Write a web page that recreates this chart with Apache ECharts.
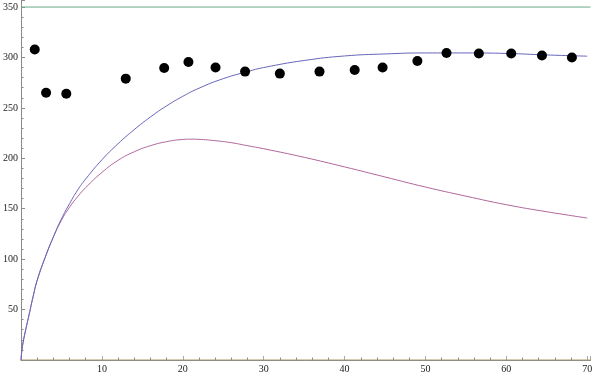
<!DOCTYPE html>
<html>
<head>
<meta charset="utf-8">
<script src="https://cdn.jsdelivr.net/npm/echarts@6/dist/echarts.min.js"></script>
<style>html,body{margin:0;padding:0;background:#fff;}#c{width:599px;height:374px;}</style>
</head>
<body>
<div id="c"></div>
<script>
// Observed data points
var obsX = [1.7, 3.1, 5.6, 12.95, 17.7, 20.7, 24.05, 27.7, 32.0, 36.9, 41.25, 44.7, 49.0, 52.6, 56.6, 60.6, 64.4, 68.1];
var obsY = [308, 265, 264, 279, 289.5, 295.5, 290, 286, 284, 286, 287.5, 290, 296.5, 304.5, 304, 304, 302, 300];

// Blue curve
var blueX = [0, 0.1, 0.25, 0.5, 1, 1.5, 2, 3, 4, 5, 6, 7, 8, 10, 12, 14, 16, 18, 20, 22, 25, 28, 30, 35, 40, 45, 50, 55, 60, 65, 70];
var blueY = [0, 9, 17, 27, 45, 63, 79, 102, 122, 140, 155, 168.5, 179.5, 198.5, 214.5, 228.5, 241, 252, 261.5, 269.5, 279, 286, 290, 297, 301.5, 303.5, 304.5, 304.5, 304, 302.5, 301.3];

// Red curve
var redX = [0, 0.1, 0.25, 0.5, 1, 1.5, 2, 3, 4, 5, 6, 7, 8, 10, 12, 14, 16, 18, 20, 21, 22, 24, 26, 28, 30, 35, 40, 45, 50, 55, 60, 65, 70];
var redY = [0, 9, 17, 27, 45, 63, 79, 102, 122, 138.5, 151.5, 162, 171, 186, 198, 206.5, 212.5, 216.5, 218.7, 219, 218.8, 217.5, 215.5, 212.5, 209.5, 201, 191.5, 181.5, 171.5, 162.5, 154, 147, 140.8];

// Reference horizontal lines
var refLevels = [0, 350];

var xTickStep = 10, yTickStep = 50;
var xMin = 0, xMax = 70.4, yMin = 0, yMax = 357;

function pairs(xs, ys) { return xs.map(function (x, i) { return [x, ys[i]]; }); }

var chart = echarts.init(document.getElementById('c'), null, {renderer: 'canvas'});
var font = '"Liberation Serif", "DejaVu Serif", serif';
chart.setOption({
  animation: false,
  backgroundColor: '#fff',
  grid: {left: 16, right: 8.5, top: 0, bottom: 14, containLabel: false},
  xAxis: {
    type: 'value', min: xMin, max: xMax, interval: xTickStep,
    axisLine: {show: true, onZero: false, lineStyle: {color: '#8a8a8a', width: 1}},
    axisTick: {show: true, inside: true, length: 4, lineStyle: {color: '#a8a8a8'}},
    minorTick: {show: true, splitNumber: 5, length: 2.5, lineStyle: {color: '#8a8a8a'}},
    axisLabel: {showMinLabel: false, showMaxLabel: true, color: '#222', fontFamily: font, fontSize: 10, margin: 4,
      formatter: function (v) { return (v % xTickStep === 0) ? String(v) : ''; }},
    splitLine: {show: false}
  },
  yAxis: {
    type: 'value', min: yMin, max: yMax, interval: yTickStep,
    axisLine: {show: true, onZero: false, lineStyle: {color: '#8a8a8a', width: 1}},
    axisTick: {show: true, inside: true, length: 4, lineStyle: {color: '#8a8a8a'}},
    minorTick: {show: true, splitNumber: 5, length: 2.5, lineStyle: {color: '#8a8a8a'}},
    axisLabel: {showMinLabel: false, showMaxLabel: false, color: '#222', fontFamily: font, fontSize: 10, margin: 3,
      formatter: function (v) { return (v % yTickStep === 0) ? String(v) : ''; }},
    splitLine: {show: false}
  },
  series: [
    {type: 'line', data: [[xMin, refLevels[0]], [xMax, refLevels[0]]], showSymbol: false, silent: true,
      lineStyle: {color: '#a89a68', width: 1}, z: 3},
    {type: 'line', data: [[xMin, refLevels[1]], [xMax, refLevels[1]]], showSymbol: false, silent: true,
      lineStyle: {color: '#6aa888', width: 1}, z: 3},
    {type: 'line', data: pairs(redX, redY), showSymbol: false, smooth: 0.5,
      lineStyle: {color: '#b0679a', width: 1}, z: 4},
    {type: 'line', data: pairs(blueX, blueY), showSymbol: false, smooth: 0.5,
      lineStyle: {color: '#6666bb', width: 1}, z: 5},
    {type: 'scatter', data: pairs(obsX, obsY), symbol: 'circle', symbolSize: 10,
      itemStyle: {color: '#000', opacity: 1}, z: 6}
  ]
});
</script>
</body>
</html>
